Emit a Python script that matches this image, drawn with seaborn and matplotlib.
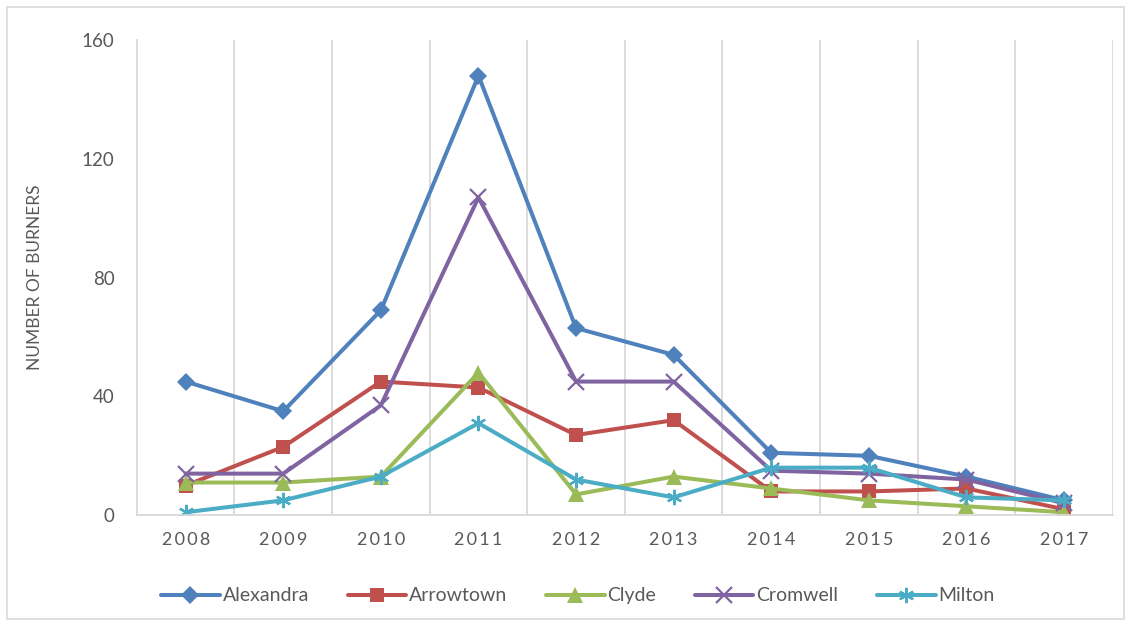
import pandas as pd
import matplotlib.pyplot as plt
import seaborn as sns
from matplotlib.patches import Rectangle

# Values
years = ['2008', '2009', '2010', '2011', '2012', '2013', '2014', '2015', '2016', '2017']
alexandra = [45, 35, 69, 148, 63, 54, 21, 20, 13, 5]
arrowtown = [10, 23, 45, 43, 27, 32, 8, 8, 9, 2]
clyde = [11, 11, 13, 48, 7, 13, 9, 5, 3, 1]
cromwell = [14, 14, 37, 107, 45, 45, 15, 14, 12, 4]
milton = [1, 5, 13, 31, 12, 6, 16, 16, 6, 5]

towns = ['Alexandra', 'Arrowtown', 'Clyde', 'Cromwell', 'Milton']
series = [alexandra, arrowtown, clyde, cromwell, milton]
colors = ['#4F81BD', '#C0504D', '#9BBB59', '#8064A2', '#4BACC6']
markers = ['D', 's', '^', 'x', (6, 2, 0)]
msizes = [9, 10, 11, 11, 11]

# Long-form table for seaborn
rows = []
for town, vals in zip(towns, series):
    for i, v in enumerate(vals):
        rows.append({'idx': i, 'Year': years[i], 'Town': town, 'Burners': v})
df = pd.DataFrame(rows)

sns.set_theme(style='white')
plt.rcParams['font.family'] = ['Lato', 'DejaVu Sans']

fig = plt.figure(figsize=(11.31, 6.26), dpi=100)
ax = fig.add_axes([0.121, 0.177, 0.863, 0.759])

for town, col, mk, ms in zip(towns, colors, markers, msizes):
    sub = df[df['Town'] == town]
    big = mk in ('x', (6, 2, 0))
    sns.lineplot(data=sub, x='idx', y='Burners', ax=ax, color=col, linewidth=2.9,
                 marker=mk, markersize=ms,
                 markeredgewidth=1.6 if big else 0,
                 markeredgecolor=col, label=town)

ax.set_xlim(-0.5, len(years) - 0.5)
ax.set_ylim(0, 160)
ax.set_yticks([0, 40, 80, 120, 160])
ax.set_xticks(range(len(years)))
ax.set_xticklabels(['\u2009'.join(y) for y in years])
ax.tick_params(axis='y', length=0, pad=16, labelsize=13.5, labelcolor='#595959')
ax.tick_params(axis='x', length=0, pad=12, labelsize=13, labelcolor='#595959')

# vertical gridlines between categories
for b in range(1, len(years) + 1):
    ax.axvline(b - 0.5, color='#D9D9D9', linewidth=1.3, zorder=0)

for side in ['top', 'right']:
    ax.spines[side].set_visible(False)
ax.spines['left'].set_color('#D9D9D9')
ax.spines['bottom'].set_color('#D9D9D9')
ax.spines['left'].set_linewidth(1.3)
ax.spines['bottom'].set_linewidth(1.3)

ax.set_xlabel('')
ax.set_ylabel('NUMBER OF BURNERS', fontsize=12.5, color='#595959', labelpad=28)

ax.legend(loc='upper center', bbox_to_anchor=(0.452, -0.115), ncol=5, frameon=False,
          fontsize=14, labelcolor='#595959', handlelength=3.0, handletextpad=0.15,
          columnspacing=2.0)

# light frame around the chart area
fig.patches.append(Rectangle((0.006, 0.011), 0.988, 0.978, transform=fig.transFigure,
                             fill=False, edgecolor='#D9D9D9', linewidth=1.2))

fig.savefig('out.png', dpi=100)
